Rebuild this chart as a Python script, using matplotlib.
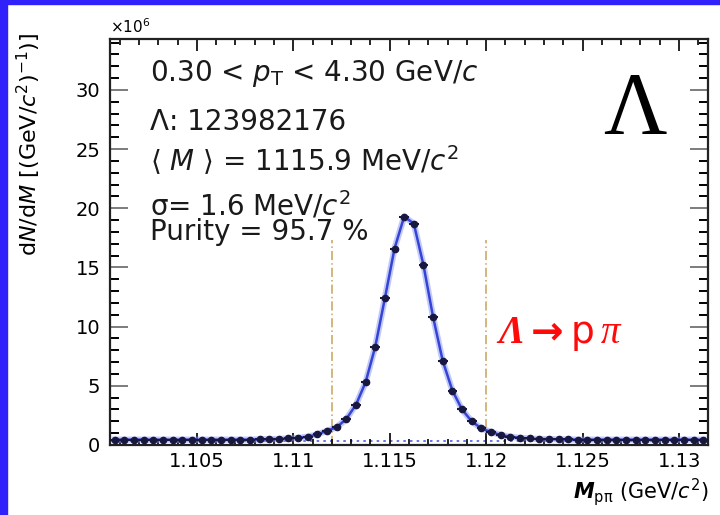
import numpy as np
import matplotlib
matplotlib.use('Agg')
import matplotlib.pyplot as plt
from matplotlib.patches import Rectangle
from matplotlib.ticker import MultipleLocator

# bin centres (GeV/c^2) and yields (x10^6)
mass = [1.10075 + 0.0005 * i for i in range(62)]
counts = [0.45, 0.45, 0.45, 0.45, 0.45, 0.45, 0.45, 0.45, 0.45, 0.45,
          0.45, 0.45, 0.45, 0.45, 0.45, 0.47, 0.5, 0.5, 0.55, 0.6,
          0.7, 0.9, 1.2, 1.5, 2.2, 3.4, 5.3, 8.3, 12.4, 16.6,
          19.3, 18.7, 15.2, 10.8, 7.1, 4.6, 3.0, 2.0, 1.4, 1.1,
          0.85, 0.7, 0.6, 0.55, 0.5, 0.5, 0.48, 0.47, 0.45, 0.45,
          0.45, 0.45, 0.45, 0.45, 0.45, 0.45, 0.45, 0.45, 0.45, 0.45,
          0.45, 0.45]
half_bin = 0.00025
bkg_level = 0.35
window = [1.112, 1.120]
window_top = 17.3

W, H = 720, 515
fig = plt.figure(figsize=(W / 100, H / 100), dpi=100)
fig.patch.set_facecolor('white')

# blue frame on top and left
blue = '#3020fa'
fig.patches.append(Rectangle((0, 0), 7 / W, 1, transform=fig.transFigure, color=blue, zorder=0))
fig.patches.append(Rectangle((0, 1 - 4 / H), 1, 4 / H, transform=fig.transFigure, color=blue, zorder=0))

ax = fig.add_axes([110 / W, 70 / H, 598 / W, 406 / H])

ax.plot(mass, counts, color='#8a96f0', lw=4.5, alpha=0.5, zorder=2)
ax.plot(mass, counts, color='#3344d6', lw=1.8, zorder=3)
ax.errorbar(mass, counts, xerr=half_bin, fmt='o', ms=4.5, color='#17173f',
            elinewidth=1.5, capsize=0, zorder=4)
ax.axhline(bkg_level, color='#4a5cf0', lw=1.2, ls=(0, (1.5, 2.5)), zorder=1)
ax.vlines(window, 0, window_top, color='#c9a35a', lw=1.1, ls=(0, (6, 2, 1, 2)), zorder=1)

ax.set_xlim(1.1005, 1.1315)
ax.set_ylim(0, 34.3)

ax.xaxis.set_major_locator(MultipleLocator(0.005))
ax.xaxis.set_minor_locator(MultipleLocator(0.001))
ax.yaxis.set_major_locator(MultipleLocator(5))
ax.yaxis.set_minor_locator(MultipleLocator(1))
ax.set_xticks([1.105, 1.11, 1.115, 1.12, 1.125, 1.13])
ax.set_xticklabels(['1.105', '1.11', '1.115', '1.12', '1.125', '1.13'])

ax.tick_params(axis='both', which='both', direction='in', top=True, right=True, colors='black')
ax.tick_params(axis='x', which='major', length=8.6, width=1.2, labelsize=14, pad=5)
ax.tick_params(axis='x', which='minor', length=4.3, width=1.2)
ax.tick_params(axis='y', which='major', length=13, width=1.2, labelsize=14, pad=7, color='#666666')
ax.tick_params(axis='y', which='minor', length=6.5, width=1.4)
for s in ax.spines.values():
    s.set_linewidth(1.6)
    s.set_color('#222222')

# axis titles and offset
fig.text(29 / W, 1 - 33 / H, r'd$N$/d$M$ [(GeV/$c^{2}$)$^{-1}$)]', rotation=90,
         ha='center', va='top', fontsize=16)
fig.text(708 / W, 1 - 492 / H, r'$\boldsymbol{M}_{\rm p\pi}$ (GeV/$c^{2}$)', ha='right', va='center',
         fontsize=15)
fig.text(110 / W, 1 - 33 / H, r'$\times10^{6}$', ha='left', va='baseline', fontsize=11)

# info block
info = [
    (81, r'0.30 < $p_{\rm T}$ < 4.30 GeV/$c$'),
    (130, 'Λ: 123982176'),
    (171, r'$\langle\ M\ \rangle$ = 1115.9 MeV/$c^{2}$'),
    (215, r'σ= 1.6 MeV/$c^{2}$'),
    (240, 'Purity = 95.7 %'),
]
for yb, txt in info:
    fig.text(150 / W, 1 - yb / H, txt, ha='left', va='baseline', fontsize=20, color='#1a1a1a')

fig.text(635 / W, 1 - 133 / H, 'Λ', ha='center', va='baseline', fontsize=63,
         family='Liberation Serif', color='black')

# decay label
red = '#ff0a0a'
fig.text(498 / W, 1 - 343 / H, 'Λ', ha='left', va='baseline', fontsize=28,
         family='Liberation Serif', style='italic', weight='bold', color=red)
fig.text(531 / W, 1 - 343 / H, '→', ha='left', va='baseline', fontsize=28,
         weight='bold', color=red)
fig.text(571 / W, 1 - 343 / H, 'p', ha='left', va='baseline', fontsize=27, color=red)
fig.text(601 / W, 1 - 343 / H, 'π', ha='left', va='baseline', fontsize=28,
         family='Liberation Serif', style='italic', color=red)

fig.savefig('out.png', dpi=100)
